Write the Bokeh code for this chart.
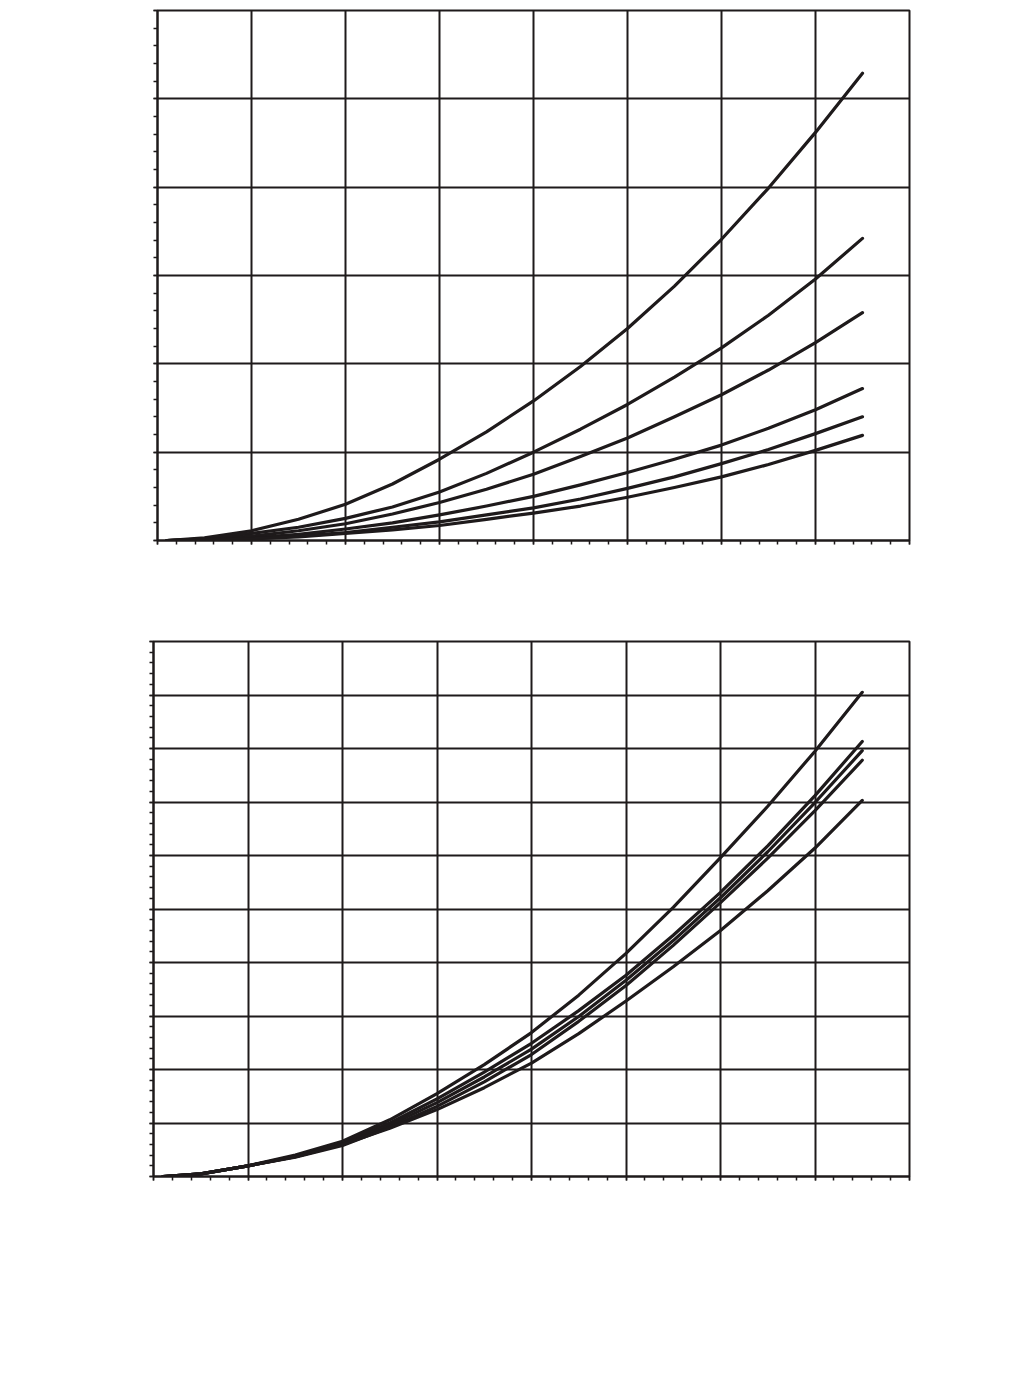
import numpy as np
from bokeh.plotting import figure
from bokeh.models import Range1d, FixedTicker, CustomJSTickFormatter
from bokeh.embed import file_html
from bokeh.resources import INLINE

# ---- data ----
x_vals = [0.1, 0.5, 1.0, 1.5, 2.0, 2.5, 3.0, 3.5, 4.0, 4.5, 5.0, 5.5, 6.0, 6.5, 7.0, 7.5]

top_c1 = [0.0, 0.03, 0.11, 0.24, 0.41, 0.64, 0.92, 1.23, 1.58, 1.97, 2.40, 2.88, 3.41, 3.99, 4.62, 5.29]
top_c2 = [0.0, 0.02, 0.08, 0.15, 0.25, 0.38, 0.55, 0.76, 1.00, 1.26, 1.54, 1.85, 2.18, 2.55, 2.96, 3.42]
top_c3 = [0.0, 0.01, 0.05, 0.11, 0.19, 0.30, 0.43, 0.58, 0.75, 0.95, 1.16, 1.40, 1.65, 1.93, 2.24, 2.58]
top_c4 = [0.0, 0.01, 0.03, 0.07, 0.13, 0.20, 0.29, 0.39, 0.50, 0.63, 0.77, 0.92, 1.08, 1.27, 1.48, 1.72]
top_c5 = [0.0, 0.01, 0.02, 0.05, 0.09, 0.15, 0.21, 0.29, 0.37, 0.47, 0.59, 0.72, 0.87, 1.03, 1.21, 1.40]
top_c6 = [0.0, 0.00, 0.02, 0.04, 0.08, 0.12, 0.17, 0.24, 0.31, 0.39, 0.49, 0.60, 0.72, 0.86, 1.02, 1.19]

bot_c1 = [0.0, 0.05, 0.20, 0.40, 0.66, 1.06, 1.55, 2.09, 2.69, 3.39, 4.17, 5.03, 5.96, 6.92, 7.95, 9.05]
bot_c2 = [0.0, 0.05, 0.20, 0.38, 0.63, 1.00, 1.45, 1.95, 2.49, 3.10, 3.76, 4.51, 5.31, 6.18, 7.12, 8.13]
bot_c3 = [0.0, 0.05, 0.20, 0.37, 0.60, 0.96, 1.38, 1.86, 2.38, 2.99, 3.67, 4.41, 5.21, 6.07, 6.99, 7.96]
bot_c4 = [0.0, 0.05, 0.20, 0.36, 0.58, 0.92, 1.31, 1.77, 2.28, 2.90, 3.57, 4.32, 5.12, 5.95, 6.84, 7.78]
bot_c5 = [0.0, 0.05, 0.20, 0.37, 0.60, 0.90, 1.25, 1.66, 2.12, 2.67, 3.28, 3.92, 4.60, 5.34, 6.14, 7.03]

top_series = [top_c1, top_c2, top_c3, top_c4, top_c5, top_c6]
bot_series = [bot_c1, bot_c2, bot_c3, bot_c4, bot_c5]

x_max = 8
top_y_max = 6
bot_y_max = 10

INK = "#1e1a1b"


def make_fig(ymax, frame_w, frame_h, left, top, bottom):
    p = figure(frame_width=frame_w, frame_height=frame_h,
               x_range=Range1d(0, x_max), y_range=Range1d(0, ymax),
               output_backend="svg", toolbar_location=None,
               min_border_left=left, min_border_top=top,
               min_border_bottom=bottom, min_border_right=20,
               background_fill_color="white", border_fill_color="white")
    p.outline_line_color = INK
    p.outline_line_width = 2
    p.outline_line_alpha = 1
    xt = FixedTicker(ticks=list(range(0, x_max + 1)),
                     minor_ticks=list(np.round(np.arange(0, x_max + 0.001, 0.2), 3)))
    yt = FixedTicker(ticks=list(range(0, ymax + 1)),
                     minor_ticks=list(np.round(np.arange(0, ymax + 0.001, 0.2), 3)))
    p.xaxis.ticker = xt
    p.yaxis.ticker = yt
    p.xgrid.ticker = xt
    p.ygrid.ticker = yt
    for g in (p.xgrid, p.ygrid):
        g.grid_line_color = INK
        g.grid_line_width = 2
        g.grid_line_alpha = 1
    for ax in (p.xaxis, p.yaxis):
        ax.axis_line_color = INK
        ax.axis_line_width = 2
        ax.major_tick_line_color = INK
        ax.minor_tick_line_color = INK
        ax.major_tick_line_width = 1.5
        ax.minor_tick_line_width = 1.5
        ax.major_tick_in = 0
        ax.major_tick_out = 4
        ax.minor_tick_in = 0
        ax.minor_tick_out = 4
        ax.formatter = CustomJSTickFormatter(code="return ''")
        ax.major_label_text_font_size = "1px"
    return p


p1 = make_fig(top_y_max, 752, 530, 157, 10, 91)
for s in top_series:
    p1.line(x_vals, s, line_color=INK, line_width=3.2, line_cap="round", line_join="round")

p2 = make_fig(bot_y_max, 756, 535, 153, 10, 40)
for s in bot_series:
    p2.line(x_vals, s, line_color=INK, line_width=3.2, line_cap="round", line_join="round")

open("out.html", "w").write(file_html([p1, p2], INLINE))
